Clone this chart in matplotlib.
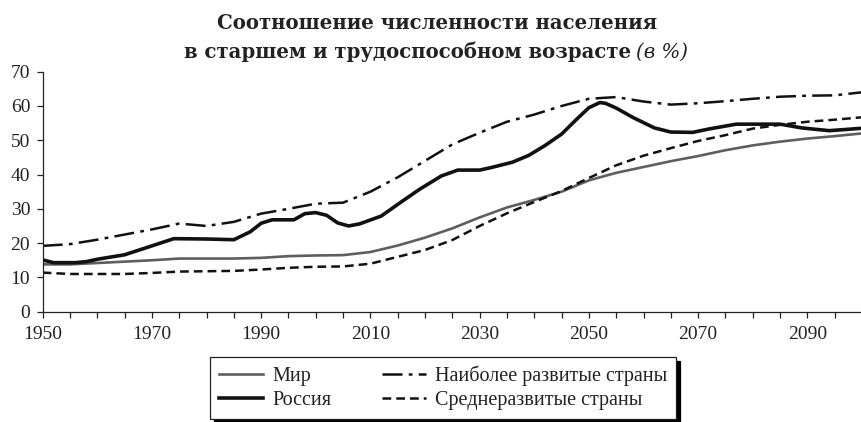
import matplotlib
matplotlib.use('Agg')
import matplotlib.pyplot as plt

# Data (share of population 65+ to working age, %)
world_years = [1950, 1955, 1960, 1965, 1970, 1975, 1980, 1985, 1990, 1995, 2000, 2005, 2010,
               2015, 2020, 2025, 2030, 2035, 2040, 2045, 2050, 2055, 2060, 2065, 2070, 2075,
               2080, 2085, 2090, 2095, 2100]
world = [13.8, 13.8, 14.2, 14.6, 15.0, 15.5, 15.5, 15.5, 15.7, 16.2, 16.4, 16.5, 17.4,
         19.3, 21.6, 24.3, 27.5, 30.4, 32.6, 35.0, 38.3, 40.5, 42.2, 43.9, 45.4, 47.1,
         48.5, 49.6, 50.5, 51.2, 52.0]

medium_years = world_years
medium = [11.4, 11.0, 11.0, 11.0, 11.3, 11.7, 11.8, 11.9, 12.3, 12.8, 13.1, 13.2, 14.0,
          16.0, 18.0, 20.9, 25.0, 28.7, 32.0, 35.2, 39.0, 42.7, 45.5, 47.7, 49.8, 51.5,
          53.4, 54.5, 55.4, 56.0, 56.7]

developed_years = world_years
developed = [19.2, 19.7, 21.0, 22.5, 24.0, 25.7, 25.0, 26.2, 28.6, 30.0, 31.5, 31.8, 35.0,
             39.2, 44.0, 48.8, 52.2, 55.4, 57.5, 60.0, 62.1, 62.6, 61.3, 60.4, 60.8, 61.4,
             62.1, 62.7, 63.0, 63.1, 64.0]

russia_years = [1950, 1952, 1956, 1958, 1960, 1965, 1970, 1974, 1980, 1985, 1988, 1990, 1992,
                1996, 1998, 2000, 2002, 2004, 2006, 2008, 2012, 2015, 2019, 2023, 2026, 2030,
                2032, 2036, 2039, 2042, 2045, 2048, 2050, 2052, 2053, 2055, 2058, 2062, 2065,
                2069, 2072, 2077, 2085, 2089, 2094, 2100]
russia = [15.1, 14.3, 14.3, 14.6, 15.3, 16.6, 19.2, 21.3, 21.2, 21.0, 23.3, 25.8, 26.8,
          26.8, 28.6, 28.9, 28.1, 25.9, 25.0, 25.6, 27.9, 31.3, 35.7, 39.6, 41.3, 41.3,
          42.0, 43.6, 45.6, 48.5, 51.8, 56.5, 59.5, 61.0, 60.8, 59.4, 56.7, 53.6, 52.4,
          52.3, 53.3, 54.7, 54.7, 53.6, 52.8, 53.5]

# legend fills column by column
labels = ['Мир', 'Россия', 'Наиболее развитые страны', 'Среднеразвитые страны']

plt.rcParams['font.family'] = ['Liberation Serif', 'DejaVu Serif']

fig = plt.figure(figsize=(8.62, 4.22), dpi=100)
ax = fig.add_axes([0.0495, 0.2614, 0.9505, 0.5687])

h_world, = ax.plot(world_years, world, color='#5e5e5e', lw=1.9, solid_joinstyle='round')
h_dev, = ax.plot(developed_years, developed, color='#111111', lw=1.8,
                 dashes=(8, 2.5, 1.5, 2.5))
h_rus, = ax.plot(russia_years, russia, color='#111111', lw=2.6, solid_joinstyle='round')
h_med, = ax.plot(medium_years, medium, color='#111111', lw=1.8, dashes=(3.5, 2))

ax.set_xlim(1950, 2100)
ax.set_ylim(0, 70)
ax.set_xticks(range(1950, 2101, 5))
ax.set_xticklabels([str(y) if (y - 1950) % 20 == 0 else '' for y in range(1950, 2101, 5)])
ax.set_yticks(range(0, 71, 10))
ax.tick_params(axis='both', direction='out', length=4, width=0.9, colors='#222222',
               labelsize=14, labelcolor='#222222')
ax.tick_params(axis='x', pad=6)
ax.tick_params(axis='y', pad=5)
for side in ['top', 'right']:
    ax.spines[side].set_visible(False)
for side in ['left', 'bottom']:
    ax.spines[side].set_linewidth(0.9)
    ax.spines[side].set_color('#222222')

# Title in two lines, the "(в %)" part in italic
fig.text(437 / 862, 1 - 29 / 422, 'Соотношение численности населения', ha='center',
         va='baseline', fontsize=14.2, fontweight='bold', family='DejaVu Serif', color='#222222')
fig.text(631 / 862, 1 - 58 / 422, 'в старшем и трудоспособном возрасте', ha='right',
         va='baseline', fontsize=14.2, fontweight='bold', family='DejaVu Serif', color='#222222')
fig.text(636 / 862, 1 - 58 / 422, '(в %)', ha='left', va='baseline', fontsize=14.2,
         style='italic', family='DejaVu Serif', color='#222222')

leg = fig.legend([h_world, h_rus, h_dev, h_med], labels, ncol=2, loc='center',
                 bbox_to_anchor=(443 / 862, 1 - 388 / 422), fontsize=14.5,
                 frameon=True, fancybox=False, edgecolor='#222222', handlelength=2.2,
                 handletextpad=0.45, columnspacing=2.5, labelspacing=0.25,
                 borderpad=0.45, borderaxespad=0,
                 shadow={'ox': 3, 'oy': -3, 'facecolor': 'black', 'edgecolor': 'black',
                         'alpha': 1})
leg.get_frame().set_linewidth(0.9)
for t in leg.get_texts():
    t.set_color('#222222')

fig.savefig('out.png', dpi=100)
